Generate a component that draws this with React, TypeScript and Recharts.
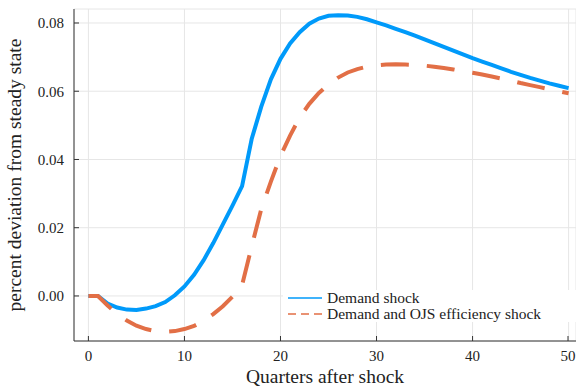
import React from 'react';
import { LineChart, Line, XAxis, YAxis, CartesianGrid } from 'recharts';

const quarters = [
    0, 1, 2, 3, 4, 5, 6, 7, 8, 9, 10, 11, 12, 13, 14, 15, 16, 17, 18, 19, 20, 21, 22, 23, 24, 25,
    26, 27, 28, 29, 30, 31, 32, 33, 34, 35, 36, 37, 38, 39, 40, 41, 42, 43, 44, 45, 46, 47, 48, 49, 50,
];

const demandShock = [
    0, 0, -0.0022, -0.0034, -0.004, -0.0041, -0.0037, -0.003, -0.0018, 0.0002, 0.0028, 0.0062, 0.0105,
    0.0155, 0.021, 0.0265, 0.0322, 0.046, 0.0555, 0.0635, 0.0695, 0.074, 0.0773, 0.0798, 0.0813, 0.0821,
    0.0823, 0.0822, 0.0818, 0.0811, 0.0802, 0.0793, 0.0783, 0.0773, 0.0763, 0.0752, 0.0741, 0.073, 0.0719,
    0.0708, 0.0697, 0.0687, 0.0677, 0.0667, 0.0657, 0.0648, 0.0639, 0.0631, 0.0623, 0.0616, 0.0609,
];

const demandOjsShock = [
    0, 0, -0.0028, -0.0052, -0.0072, -0.0087, -0.0097, -0.0103, -0.0105, -0.0103, -0.0097, -0.0088, -0.0073,
    -0.0053, -0.003, -0.0002, 0.0032, 0.0145, 0.0255, 0.0335, 0.041, 0.047, 0.0523, 0.0563, 0.0595, 0.062,
    0.064, 0.0655, 0.0665, 0.0672, 0.0676, 0.0678, 0.0679, 0.0678, 0.0677, 0.0675, 0.0672, 0.0668, 0.0664,
    0.0659, 0.0654, 0.0649, 0.0643, 0.0637, 0.0631, 0.0624, 0.0618, 0.0612, 0.0606, 0.06, 0.0594,
];

const xTicks = [0, 10, 20, 30, 40, 50];
const yTicks = [0, 0.02, 0.04, 0.06, 0.08];
const seriesNames = ['Demand shock', 'Demand and OJS efficiency shock'];

const BLUE = '#009AFA';
const ORANGE = '#E26F46';
const FONT = '"Liberation Serif", "DejaVu Serif", serif';

const chartData = quarters.map((q, i) => ({ q, demand: demandShock[i], ojs: demandOjsShock[i] }));

// Julia-style ticks: the mark points into the plot, the label sits outside
const XTick = (props: any) => {
    const { x, y, payload } = props;
    return (
        <g>
            <line x1={x} x2={x} y1={y} y2={y - 5} stroke="#333" strokeWidth={1} />
            <text x={x} y={y + 20} textAnchor="middle" fontFamily={FONT} fontSize={15} fill="#222">
                {payload.value}
            </text>
        </g>
    );
};

const YTick = (props: any) => {
    const { x, y, payload } = props;
    return (
        <g>
            <line x1={74} x2={79} y1={y} y2={y} stroke="#333" strokeWidth={1} />
            <text x={x} y={y + 5.5} textAnchor="end" fontFamily={FONT} fontSize={15} fill="#222">
                {payload.value.toFixed(2)}
            </text>
        </g>
    );
};

const LegendBox = () => (
    <svg width={293} height={36} style={{ position: 'absolute', left: 283, top: 290 }}>
        <rect x={0} y={0} width={293} height={32} fill="#fff" />
        <line x1={5} x2={39} y1={8} y2={8} stroke={BLUE} strokeWidth={1.5} />
        <line x1={5} x2={39} y1={24} y2={24} stroke={ORANGE} strokeWidth={1.5} strokeDasharray="8 5" />
        <text x={44} y={13} fontFamily={FONT} fontSize={15.5} fill="#222">{seriesNames[0]}</text>
        <text x={44} y={29} fontFamily={FONT} fontSize={15.5} fill="#222">{seriesNames[1]}</text>
    </svg>
);

export default function App() {
    return (
        <div style={{ position: 'absolute', left: 0, top: 0, width: 576, height: 387, background: '#fff' }}>
            <LineChart width={576} height={387} data={chartData} margin={{ top: 9, right: 0, left: 0, bottom: 0 }}>
                <CartesianGrid stroke="#e6e6e6" strokeWidth={1} />
                <XAxis
                    dataKey="q"
                    type="number"
                    domain={[-1.5, 50.77]}
                    ticks={xTicks}
                    height={46}
                    tickSize={0}
                    tickMargin={0}
                    tick={<XTick />}
                    axisLine={{ stroke: '#333', strokeWidth: 1 }}
                    tickLine={false}
                    allowDataOverflow
                    label={{ value: 'Quarters after shock', position: 'insideBottom', offset: 4, fontFamily: FONT, fontSize: 19.5, fill: '#222' }}
                />
                <YAxis
                    type="number"
                    domain={[-0.0132, 0.0841]}
                    ticks={yTicks}
                    width={74}
                    tickSize={0}
                    tickMargin={10}
                    tick={<YTick />}
                    axisLine={{ stroke: '#333', strokeWidth: 1 }}
                    tickLine={false}
                    allowDataOverflow
                    label={{ value: 'percent deviation from steady state', angle: -90, position: 'insideLeft', offset: 14, fontFamily: FONT, fontSize: 19.5, fill: '#222', style: { textAnchor: 'middle' } }}
                />
                <Line type="linear" name={seriesNames[0]} dataKey="demand" stroke={BLUE} strokeWidth={4} dot={false} isAnimationActive={false} />
                <Line type="linear" name={seriesNames[1]} dataKey="ojs" stroke={ORANGE} strokeWidth={4} strokeDasharray="28 18" dot={false} isAnimationActive={false} />
            </LineChart>
            <LegendBox />
        </div>
    );
}
